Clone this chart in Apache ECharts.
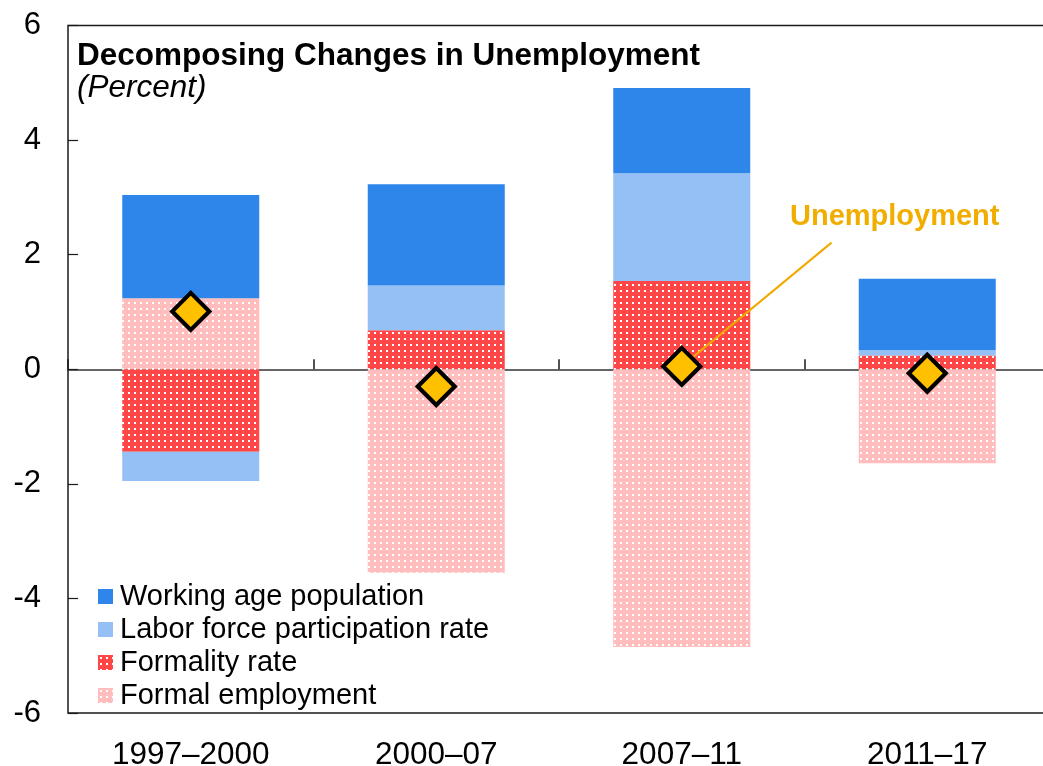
<!DOCTYPE html>
<html>
<head>
<meta charset="utf-8">
<title>Decomposing Changes in Unemployment</title>
<script src="https://cdn.jsdelivr.net/npm/echarts@6/dist/echarts.min.js"></script>
<style>
  html, body { margin: 0; padding: 0; background: #ffffff; }
  #chart { width: 1043px; height: 766px; }
</style>
</head>
<body>
<div id="chart"></div>
<script>
// Periods on the horizontal axis
const categories = ['1997–2000', '2000–07', '2007–11', '2011–17'];

// Contributions to the change in unemployment (percentage points)
const workingAgePopulation = [1.80, 1.77, 1.49, 1.25];
const laborForceParticipation = [-0.51, 0.78, 1.88, 0.09];
const formalityRate = [-1.44, 0.68, 1.54, 0.24];
const formalEmployment = [1.24, -3.55, -4.85, -1.64];

// Total change in unemployment (percentage points)
const unemployment = [1.01, -0.30, 0.05, -0.07];

// Value axis ticks
const yTicks = [-6, -4, -2, 0, 2, 4, 6];

const FONT = '"Liberation Sans", Arial, Helvetica, sans-serif';

// Solid fill sprinkled with small white dots
function dotted(base) {
  const c = document.createElement('canvas');
  c.width = 6; c.height = 6;
  const g = c.getContext('2d');
  g.fillStyle = base;
  g.fillRect(0, 0, 6, 6);
  g.fillStyle = '#ffffff';
  g.fillRect(2, 2, 2, 2);
  return { image: c, repeat: 'repeat' };
}

const chart = echarts.init(document.getElementById('chart'), null, { renderer: 'canvas' });

// Callout label sits on the 2007–11 point
const calloutIndex = 2;
const unemploymentData = unemployment.map(function (v, i) {
  if (i !== calloutIndex) return v;
  return {
    value: v,
    label: {
      show: true,
      formatter: 'Unemployment',
      position: 'inside',
      offset: [213, -149],
      color: '#F2AE00',
      fontSize: 29,
      fontWeight: 'bold',
      fontFamily: FONT
    }
  };
});

// Leader line from the 2007–11 point up toward its callout (category index units)
const leaderLine = [[calloutIndex, unemployment[calloutIndex]], [calloutIndex + 0.61, 2.21]];

const barBase = {
  type: 'bar',
  stack: 'total',
  xAxisIndex: 0,
  barWidth: 137
};

chart.setOption({
  animation: false,
  backgroundColor: '#ffffff',
  textStyle: { fontFamily: FONT },
  title: [
    {
      text: 'Decomposing Changes in Unemployment',
      left: 77, top: 41, padding: 0,
      textStyle: { fontSize: 31.5, fontWeight: 'bold', color: '#000', fontFamily: FONT, lineHeight: 31 }
    },
    {
      text: '(Percent)',
      left: 77, top: 73, padding: 0,
      textStyle: { fontSize: 31.5, fontWeight: 'normal', fontStyle: 'italic', color: '#000', fontFamily: FONT, lineHeight: 31 }
    }
  ],
  legend: {
    orient: 'vertical',
    left: 98, top: 582,
    padding: 0,
    itemWidth: 15, itemHeight: 15, itemGap: 4,
    icon: 'rect',
    data: ['Working age population', 'Labor force participation rate', 'Formality rate', 'Formal employment'],
    textStyle: { fontSize: 29, color: '#000', fontFamily: FONT, lineHeight: 29, padding: [0, 0, 0, 2] }
  },
  grid: {
    left: 68, top: 25.5, width: 982, bottom: 53,
    outerBoundsMode: 'none',
    show: true, borderColor: '#1a1a1a', borderWidth: 1.5,
    containLabel: false
  },
  xAxis: [
    {
      type: 'category', data: categories, position: 'bottom',
      axisLine: { show: false, onZero: false },
      axisTick: { show: false },
      axisLabel: { fontSize: 31.5, color: '#000', margin: 26, fontFamily: FONT }
    },
    {
      type: 'category', data: categories, position: 'bottom',
      axisLine: { show: true, onZero: true, lineStyle: { color: '#333', width: 1.5 } },
      axisTick: { show: true, inside: true, length: 10, lineStyle: { color: '#1a1a1a', width: 1.5 } },
      axisLabel: { show: false }
    },
    {
      // hidden linear twin of the category axis, used by the leader line
      type: 'value', min: -0.5, max: categories.length - 0.5, show: false,
      axisLine: { onZero: false },
      splitLine: { show: false }
    }
  ],
  yAxis: {
    type: 'value', min: yTicks[0], max: yTicks[yTicks.length - 1], interval: 2,
    axisLine: { show: false, onZero: false },
    axisTick: { show: true, inside: true, length: 10, lineStyle: { color: '#1a1a1a', width: 1.2 } },
    splitLine: { show: false },
    axisLabel: { fontSize: 31, color: '#000', margin: 27, fontFamily: FONT }
  },
  series: [
    Object.assign({}, barBase, { name: 'Formality rate', data: formalityRate, itemStyle: { color: dotted('#FF4747') } }),
    Object.assign({}, barBase, { name: 'Formal employment', data: formalEmployment, itemStyle: { color: dotted('#FFBDBD') } }),
    Object.assign({}, barBase, { name: 'Labor force participation rate', data: laborForceParticipation, itemStyle: { color: '#95C0F5' } }),
    Object.assign({}, barBase, { name: 'Working age population', data: workingAgePopulation, itemStyle: { color: '#2E86EA' } }),
    {
      name: 'leader',
      type: 'line',
      xAxisIndex: 2,
      z: 5,
      silent: true,
      symbol: 'none',
      lineStyle: { color: '#F2A900', width: 2 },
      data: leaderLine
    },
    {
      name: 'Unemployment',
      type: 'scatter',
      xAxisIndex: 0,
      z: 10,
      symbol: 'diamond',
      symbolSize: 37,
      itemStyle: { color: '#FFC000', borderColor: '#000', borderWidth: 4.2, opacity: 1 },
      data: unemploymentData
    }
  ]
});
</script>
</body>
</html>
